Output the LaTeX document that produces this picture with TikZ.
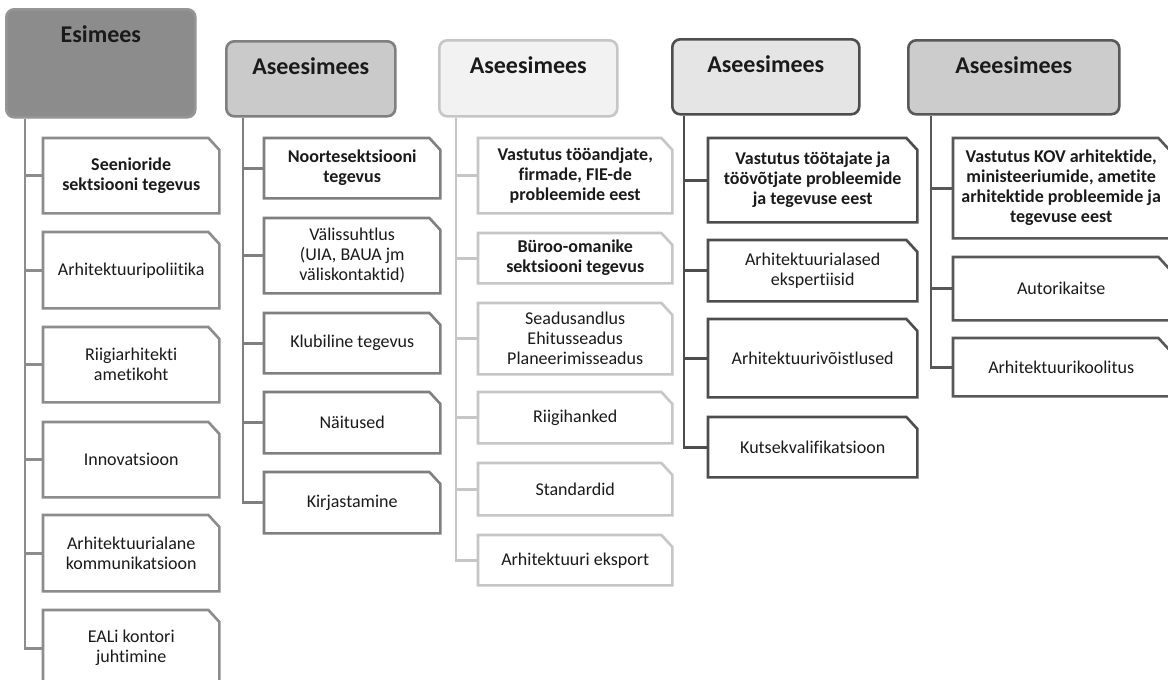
\documentclass[tikz,border=0pt]{standalone}
\usepackage{fontspec}
\setmainfont{Carlito}[Ligatures={NoCommon,NoRequired,NoContextual}]
\usetikzlibrary{calc}
\definecolor{txt}{HTML}{1A1A1A}
\definecolor{fa}{HTML}{8C8C8C}\definecolor{la}{HTML}{8C8C8C}\definecolor{ha}{HTML}{959595}
\definecolor{fb}{HTML}{CACACA}\definecolor{lb}{HTML}{7F7F7F}
\definecolor{fc}{HTML}{F2F2F2}\definecolor{lc}{HTML}{C6C6C6}
\definecolor{fd}{HTML}{E5E5E5}\definecolor{ld}{HTML}{4D4D4D}
\definecolor{fe}{HTML}{CCCCCC}\definecolor{le}{HTML}{585858}
\newcommand{\hdr}[8]{% name, fill, draw, x, y, w, h, text
  \node[hdrbox,fill=#2,draw=#3,anchor=north west,minimum width=#6pt,minimum height=#7pt,text depth={#7pt-33pt}] (#1) at (#4,#5) {#8};}
\newcommand{\snipbox}[8]{% name, line colour, extra, x, y, w, h, text
  \node[childbox,#3,anchor=north west,minimum width=#6pt,minimum height=#7pt] (#1) at (#4,#5) {#8};
  \draw[childline,draw=#2] (#1.south west) -- (#1.north west) -- ([xshift=-11pt]#1.north east) -- ([yshift=-12pt]#1.north east) -- (#1.south east) -- cycle;}
\begin{document}
\begin{tikzpicture}[x=1pt,y=-1pt,
  hdrbox/.style={rectangle,rounded corners=8pt,line width=2.6pt,inner sep=0pt,text height=33pt,text=txt,font=\fontsize{24}{26}\selectfont\bfseries},
  childbox/.style={rectangle,draw=none,inner sep=0pt,align=center,text=txt,font=\fontsize{18}{20}\selectfont},
  bold/.style={font=\fontsize{18}{20}\selectfont\bfseries},
  childline/.style={line width=2.6pt,line join=miter},
  trunk/.style={line width=2.8pt}]
\clip (0,0) rectangle (1168,680);
\fill[white] (0,0) rectangle (1168,680);
% column 1
\hdr{h1}{fa}{ha}{5}{8}{189}{108}{Esimees}
\snipbox{a1}{la}{bold}{43}{138}{176}{75}{Seenioride\\sektsiooni tegevus}
\snipbox{a2}{la}{}{43}{232}{176}{76}{Arhitektuuripoliitika}
\snipbox{a3}{la}{}{43}{327}{176}{75}{Riigiarhitekti\\ametikoht}
\snipbox{a4}{la}{}{43}{422}{176}{75}{Innovatsioon}
\snipbox{a5}{la}{}{43}{515}{176}{76}{Arhitektuurialane\\kommunikatsioon}
\snipbox{a6}{la}{}{43}{610}{176}{76}{EALi kontori\\juhtimine}
\coordinate (ta) at ([xshift=20pt]h1.south west);
\draw[trunk,draw=la] (ta) |- (a6.west);
\foreach \b in {a1,a2,a3,a4,a5} \draw[trunk,draw=la] (\b.west) -- (\b.west -| ta);
% column 2
\hdr{h2}{fb}{lb}{225}{40}{169}{75}{Aseesimees}
\snipbox{b1}{lb}{bold}{264}{138}{176}{60}{Noortesektsiooni\\tegevus}
\snipbox{b2}{lb}{}{264}{218}{176}{75}{Välissuhtlus\\(UIA, BAUA jm\\väliskontaktid)}
\snipbox{b3}{lb}{}{264}{313}{176}{60}{Klubiline tegevus}
\snipbox{b4}{lb}{}{264}{392}{176}{61}{Näitused}
\snipbox{b5}{lb}{}{264}{472}{176}{61}{Kirjastamine}
\coordinate (tb) at ([xshift=18pt]h2.south west);
\draw[trunk,draw=lb] (tb) |- (b5.west);
\foreach \b in {b1,b2,b3,b4} \draw[trunk,draw=lb] (\b.west) -- (\b.west -| tb);
% column 3
\hdr{h3}{fc}{lc}{438}{39}{178}{76}{Aseesimees}
\snipbox{c1}{lc}{bold}{478}{138}{194}{75}{Vastutus tööandjate,\\firmade, FIE-de\\probleemide eest}
\snipbox{c2}{lc}{bold}{478}{233}{194}{50}{Büroo-omanike\\sektsiooni tegevus}
\snipbox{c3}{lc}{}{478}{303}{194}{71}{Seadusandlus\\Ehitusseadus\\Planeerimisseadus}
\snipbox{c4}{lc}{}{478}{392}{194}{51}{Riigihanked}
\snipbox{c5}{lc}{}{478}{463}{194}{52}{Standardid}
\snipbox{c6}{lc}{}{478}{535}{194}{50}{Arhitektuuri eksport}
\coordinate (tc) at ([xshift=18pt]h3.south west);
\draw[trunk,draw=lc] (tc) |- (c6.west);
\foreach \b in {c1,c2,c3,c4,c5} \draw[trunk,draw=lc] (\b.west) -- (\b.west -| tc);
% column 4
\hdr{h4}{fd}{ld}{671}{38}{187}{75}{Aseesimees}
\snipbox{d1}{ld}{bold}{708}{138}{209}{84}{Vastutus töötajate ja\\töövõtjate probleemide\\ja tegevuse eest}
\snipbox{d2}{ld}{}{708}{240}{209}{61}{Arhitektuurialased\\ekspertiisid}
\snipbox{d3}{ld}{}{708}{319}{209}{78}{Arhitektuurivõistlused}
\snipbox{d4}{ld}{}{708}{417}{209}{60}{Kutsekvalifikatsioon}
\coordinate (td) at ([xshift=13pt]h4.south west);
\draw[trunk,draw=ld] (td) |- (d4.west);
\foreach \b in {d1,d2,d3} \draw[trunk,draw=ld] (\b.west) -- (\b.west -| td);
% column 5
\hdr{h5}{fe}{le}{907}{39}{211}{74}{Aseesimees}
\snipbox{e1}{le}{bold}{953}{138}{216}{100}{Vastutus KOV arhitektide,\\ministeeriumide, ametite\\arhitektide probleemide ja\\tegevuse eest}
\snipbox{e2}{le}{}{953}{257}{216}{63}{Autorikaitse}
\snipbox{e3}{le}{}{953}{338}{216}{58}{Arhitektuurikoolitus}
\coordinate (te) at ([xshift=24pt]h5.south west);
\draw[trunk,draw=le] (te) |- (e3.west);
\foreach \b in {e1,e2} \draw[trunk,draw=le] (\b.west) -- (\b.west -| te);
\end{tikzpicture}
\end{document}
